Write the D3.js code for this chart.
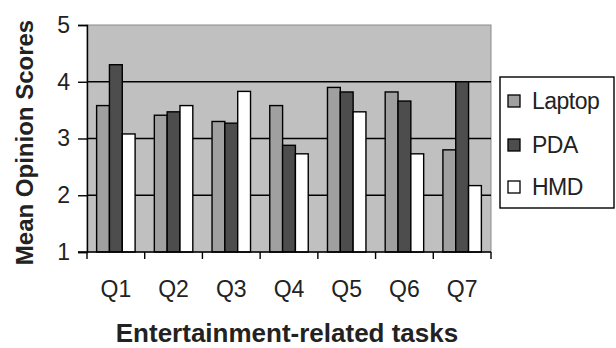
<!DOCTYPE html>
<html>
<head>
<meta charset="utf-8">
<script src="https://cdn.jsdelivr.net/npm/d3@7"></script>
<style>
  html, body { margin: 0; padding: 0; background: #fff; }
  svg { display: block; font-family: "Liberation Sans", Arial, sans-serif; }
</style>
</head>
<body>
<svg id="chart" width="616" height="348"></svg>
<script>
const categories = ["Q1", "Q2", "Q3", "Q4", "Q5", "Q6", "Q7"];
const seriesNames = ["Laptop", "PDA", "HMD"];
const laptop = [3.58, 3.41, 3.30, 3.58, 3.90, 3.82, 2.80];
const pda    = [4.30, 3.47, 3.27, 2.88, 3.82, 3.66, 4.00];
const hmd    = [3.08, 3.58, 3.83, 2.73, 3.47, 2.73, 2.17];
const yTicks = [1, 2, 3, 4, 5];
const colors = ["#a0a0a0", "#4d4d4d", "#ffffff"];

(function () {
const seriesValues = [laptop, pda, hmd];
const svg = d3.select("#chart");
const pL = 87, pR = 491, pT = 25, pB = 252;

const y = d3.scaleLinear().domain([1, 5]).range([pB, pT]);
const x0 = d3.scaleBand().domain(categories).range([pL, pR]).padding(0);
const x1 = d3.scaleBand().domain(seriesNames).range([0, x0.bandwidth()])
  .paddingInner(0).paddingOuter(0.75);
const color = d3.scaleOrdinal().domain(seriesNames).range(colors);

// plot area
svg.append("rect")
  .attr("x", pL).attr("y", pT)
  .attr("width", pR - pL).attr("height", pB - pT)
  .attr("fill", "#c0c0c0").attr("stroke", "#8a8a8a").attr("stroke-width", 1);

// gridlines
svg.append("g").selectAll("line")
  .data(yTicks.filter(d => d > 1 && d < 5))
  .join("line")
  .attr("x1", pL).attr("x2", pR)
  .attr("y1", d => y(d)).attr("y2", d => y(d))
  .attr("stroke", "#000").attr("stroke-width", 1.3);

// bars
const groups = svg.append("g").selectAll("g")
  .data(categories)
  .join("g")
  .attr("transform", d => `translate(${x0(d)},0)`);

groups.selectAll("rect")
  .data((c, i) => seriesNames.map((s, j) => ({ s, v: seriesValues[j][i] })))
  .join("rect")
  .attr("x", d => x1(d.s))
  .attr("width", x1.bandwidth())
  .attr("y", d => y(d.v))
  .attr("height", d => y(1) - y(d.v))
  .attr("fill", d => color(d.s))
  .attr("stroke", "#000").attr("stroke-width", 1.4);

// y axis
const yAxis = svg.append("g")
  .attr("transform", `translate(${pL},0)`)
  .call(d3.axisLeft(y).tickValues(yTicks).tickFormat(d3.format("d")).tickSize(9).tickPadding(8));
yAxis.select(".domain").attr("stroke", "#000").attr("stroke-width", 1.4);
yAxis.selectAll(".tick line").attr("stroke", "#000").attr("stroke-width", 1.4);
yAxis.selectAll("text").attr("font-size", 23).attr("fill", "#222")
  .attr("font-family", "Liberation Sans, Arial, sans-serif");

// x axis: ticks at category boundaries
const xAxisG = svg.append("g").attr("transform", `translate(0,${pB})`);
xAxisG.append("line").attr("x1", pL - 9).attr("x2", pR)
  .attr("stroke", "#000").attr("stroke-width", 1.4);
const boundaries = categories.map(c => x0(c)).concat([x0(categories[categories.length - 1]) + x0.bandwidth()]);
xAxisG.selectAll("line.tk").data(boundaries).join("line").attr("class", "tk")
  .attr("x1", d => d).attr("x2", d => d).attr("y1", 0).attr("y2", 7)
  .attr("stroke", "#000").attr("stroke-width", 1.4);
xAxisG.selectAll("text").data(categories).join("text")
  .attr("x", d => x0(d) + x0.bandwidth() / 2)
  .attr("y", 45)
  .attr("text-anchor", "middle")
  .attr("font-size", 23).attr("fill", "#222")
  .text(d => d);

// axis titles
svg.append("text")
  .attr("x", (pL + pR) / 2 - 2).attr("y", 342)
  .attr("text-anchor", "middle")
  .attr("font-size", 26).attr("font-weight", "bold").attr("fill", "#222")
  .text("Entertainment-related tasks");

svg.append("text")
  .attr("transform", `translate(33,${(pT + pB) / 2 + 4}) rotate(-90)`)
  .attr("text-anchor", "middle")
  .attr("font-size", 24).attr("font-weight", "bold").attr("fill", "#222")
  .text("Mean Opinion Scores");

// legend
const lg = svg.append("g");
lg.append("rect").attr("x", 500).attr("y", 77).attr("width", 114).attr("height", 131)
  .attr("fill", "#fff").attr("stroke", "#000").attr("stroke-width", 1.4);
const rowY = [101, 145, 187];
const items = lg.selectAll("g.item").data(seriesNames).join("g").attr("class", "item")
  .attr("transform", (d, i) => `translate(508,${rowY[i]})`);
items.append("rect").attr("x", 0).attr("y", -6).attr("width", 12).attr("height", 12)
  .attr("fill", d => color(d)).attr("stroke", "#000").attr("stroke-width", 1.3);
items.append("text").attr("x", 24).attr("y", 8)
  .attr("font-size", 23).attr("fill", "#222")
  .attr("letter-spacing", -0.5)
  .text(d => d);
})();
</script>
</body>
</html>
